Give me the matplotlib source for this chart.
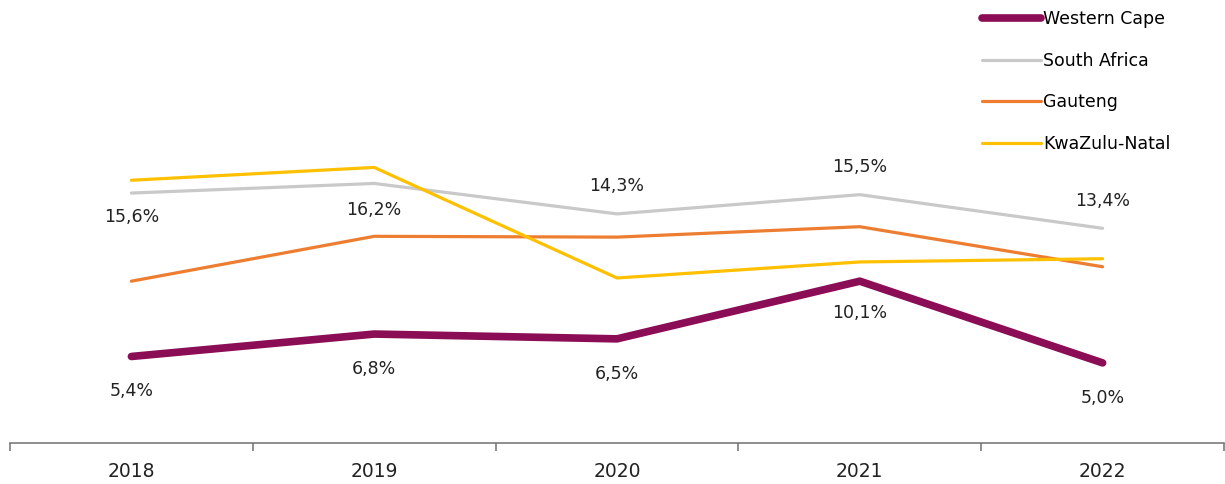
import matplotlib.pyplot as plt
import numpy as np

# dane
years = ['2018', '2019', '2020', '2021', '2022']
western_cape = [5.4, 6.8, 6.5, 10.1, 5.0]
south_africa = [15.6, 16.2, 14.3, 15.5, 13.4]
gauteng = [10.1, 12.9, 12.85, 13.5, 11.0]
kwazulu_natal = [16.4, 17.2, 10.3, 11.3, 11.5]

# przesuniecia etykiet (w punktach)
wc_offsets = [-25, -25, -25, -23, -25]
sa_offsets = [-17, -19, 20, 20, 20]

plt.rcParams['font.family'] = ['DejaVu Sans']

fig = plt.figure(figsize=(12.25, 4.84), dpi=100)
ax = fig.add_axes([10 / 1225, 41 / 484, 1214 / 1225, 443 / 484])

x = np.arange(len(years))
ax.plot(x, south_africa, color='#C9C9C9', lw=2.3, solid_capstyle='round', label='South Africa', zorder=2)
ax.plot(x, gauteng, color='#ED7D31', lw=2.3, solid_capstyle='round', label='Gauteng', zorder=3)
ax.plot(x, kwazulu_natal, color='#FFC000', lw=2.3, solid_capstyle='round', label='KwaZulu-Natal', zorder=4)
ax.plot(x, western_cape, color='#8B0D56', lw=5.5, solid_capstyle='round', label='Western Cape', zorder=5)

def fmt(v):
    return ('%.1f%%' % v).replace('.', ',')

for i, v in enumerate(western_cape):
    ax.annotate(fmt(v), (x[i], v), xytext=(0, wc_offsets[i]), textcoords='offset points',
                ha='center', va='center', fontsize=12.5, color='#222222')
for i, v in enumerate(south_africa):
    ax.annotate(fmt(v), (x[i], v), xytext=(0, sa_offsets[i]), textcoords='offset points',
                ha='center', va='center', fontsize=12.5, color='#222222')

ax.set_xlim(-0.5, len(years) - 0.5)
ax.set_ylim(0, 27.65)
for s in ['top', 'right', 'left']:
    ax.spines[s].set_visible(False)
ax.spines['bottom'].set_color('#707070')
ax.spines['bottom'].set_linewidth(1.1)
ax.set_yticks([])
ax.set_xticks(np.arange(len(years) + 1) - 0.5, minor=False)
ax.set_xticklabels([])
ax.tick_params(axis='x', which='major', length=6, color='#707070', width=1.1)
ax.set_xticks(x, minor=True)
ax.set_xticklabels(years, minor=True, fontsize=13.5, color='#222222')
ax.tick_params(axis='x', which='minor', length=0, pad=14)

handles, labels = ax.get_legend_handles_labels()
order = [3, 0, 1, 2]
ax.legend([handles[i] for i in order], [labels[i] for i in order],
          loc='upper right', bbox_to_anchor=(1181 / 1225, 1.0), bbox_transform=fig.transFigure,
          frameon=False, fontsize=12.5, handlelength=3.4, handletextpad=0.15,
          labelspacing=1.35, borderaxespad=0.2)

fig.savefig('out.png', dpi=100)
